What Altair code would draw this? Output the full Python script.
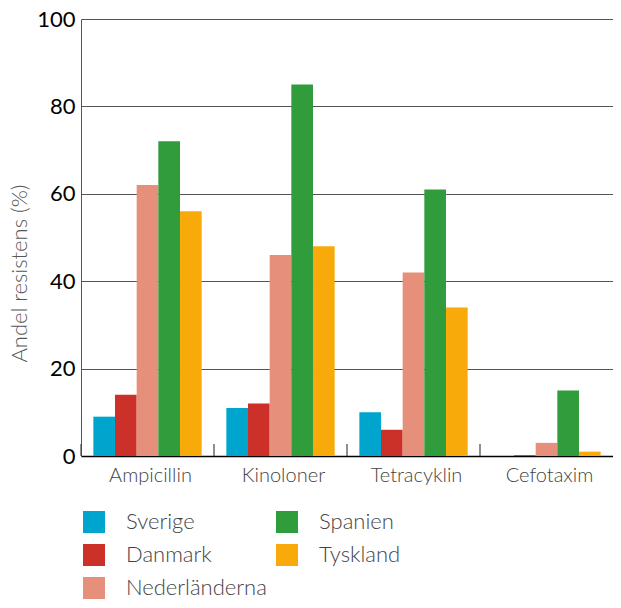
import altair as alt
import pandas as pd

antibiotics = ["Ampicillin", "Kinoloner", "Tetracyklin", "Cefotaxim"]
countries = ["Sverige", "Danmark", "Nederländerna", "Spanien", "Tyskland"]
sverige = [9, 11, 10, 0]
danmark = [14, 12, 6, 0.2]
nederlanderna = [62, 46, 42, 3]
spanien = [72, 85, 61, 15]
tyskland = [56, 48, 34, 1]
colors = ["#00A5CE", "#CC3129", "#E68F7A", "#319C3B", "#F7AA09"]
y_ticks = [0, 20, 40, 60, 80, 100]

series = [sverige, danmark, nederlanderna, spanien, tyskland]
rows = []
for c, vals in zip(countries, series):
    for a, v in zip(antibiotics, vals):
        rows.append({"Antibiotika": a, "Land": c, "Andel": v})
df = pd.DataFrame(rows)
ticks_df = pd.DataFrame({"Antibiotika": antibiotics})

FONT = "Lato"
W = 532
H = 437

xscale = alt.Scale(domain=antibiotics, paddingInner=0, paddingOuter=0)
xaxis = alt.Axis(title=None, labelAngle=0, ticks=False, domain=True,
                 domainColor="#000000", domainWidth=1.5,
                 labelFont=FONT, labelFontSize=20, labelColor="#444444",
                 labelFontWeight=300, labelPadding=9, labelOffset=3)

bars = alt.Chart(df).mark_bar().encode(
    x=alt.X("Antibiotika:N", scale=xscale, sort=antibiotics, axis=xaxis),
    xOffset=alt.XOffset("Land:N", sort=countries,
                        scale=alt.Scale(paddingInner=0, paddingOuter=0.57)),
    y=alt.Y("Andel:Q", scale=alt.Scale(domain=[0, 100], nice=False),
            axis=alt.Axis(title="Andel resistens (%)", values=y_ticks, ticks=False,
                          grid=True, gridColor="#555555", gridWidth=1,
                          domain=True, domainColor="#555555",
                          labelFont=FONT, labelFontSize=22, labelColor="#000000",
                          labelPadding=6,
                          titleFont=FONT, titleFontSize=22, titleColor="#555555",
                          titleFontWeight=300, titlePadding=5, titleY=254)),
    color=alt.Color("Land:N",
                    scale=alt.Scale(domain=countries, range=colors),
                    legend=alt.Legend(title=None, orient="none", legendX=2, legendY=492,
                                      columns=2, symbolType="square", symbolSize=484,
                                      symbolStrokeWidth=0, labelFont=FONT,
                                      labelFontSize=22, labelColor="#444444",
                                      labelFontWeight=300, labelOffset=21,
                                      rowPadding=11, columnPadding=9,
                                      symbolOpacity=1)),
)

ticks = alt.Chart(ticks_df).mark_rule(color="#444444", strokeWidth=1.2,
                                      xOffset=-W / len(antibiotics) / 2).encode(
    x=alt.X("Antibiotika:N", scale=xscale, sort=antibiotics, axis=xaxis),
    y=alt.value(H - 12),
    y2=alt.value(H),
)

chart = alt.layer(bars, ticks).properties(
    width=W, height=H, padding={"left": 0, "top": 0, "right": 0, "bottom": 0}
).configure_view(stroke=None)

chart.save("out.html", embed_options={"renderer": "svg", "actions": False})
